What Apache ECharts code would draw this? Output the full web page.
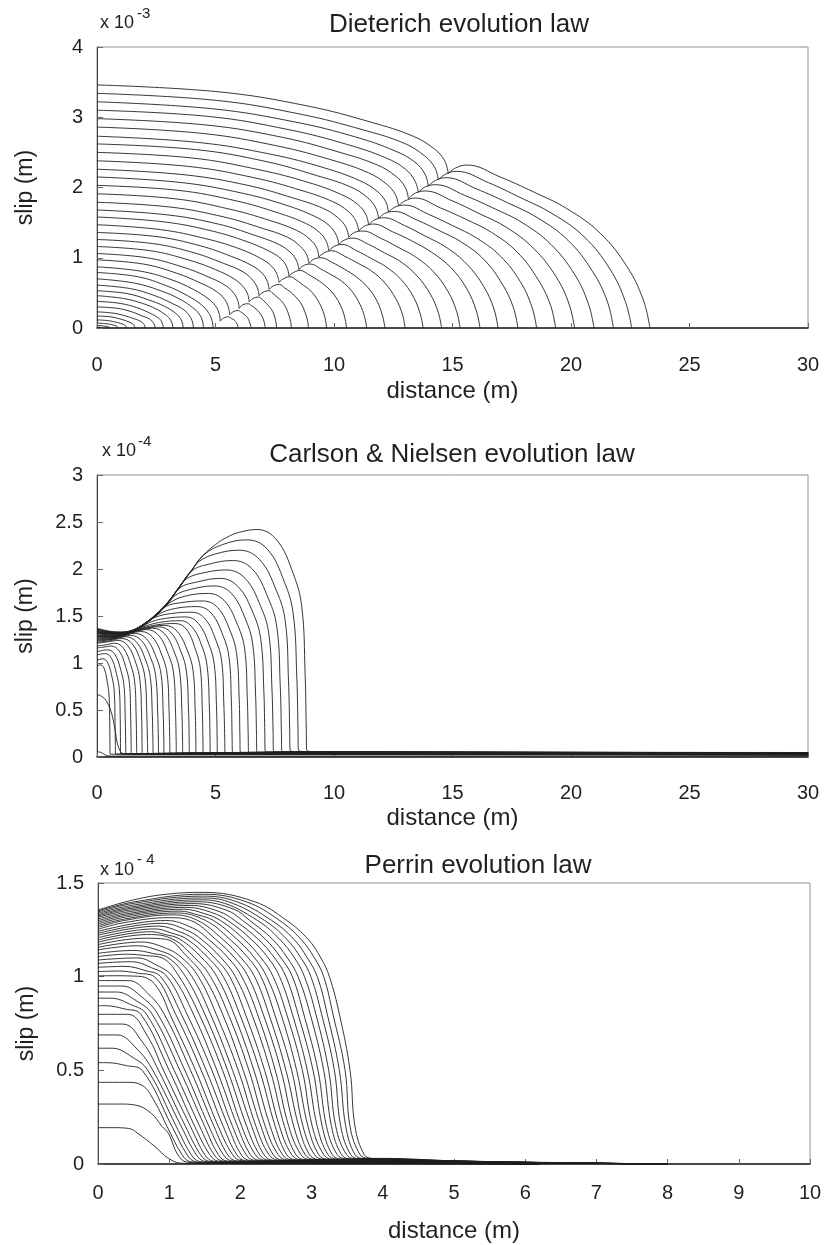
<!DOCTYPE html>
<html><head><meta charset="utf-8">
<script src="https://cdn.jsdelivr.net/npm/echarts@6/dist/echarts.min.js"></script>
<style>html,body{margin:0;padding:0;background:#fff}#c{width:829px;height:1245px}</style>
</head><body><div id="c"></div>
<script>
// ---------- tick values ----------
const dieterichXTicks = [0, 5, 10, 15, 20, 25, 30];
const dieterichYTicks = [0, 1, 2, 3, 4];
const carlsonXTicks = [0, 5, 10, 15, 20, 25, 30];
const carlsonYTicks = [0, 0.5, 1, 1.5, 2, 2.5, 3];
const perrinXTicks = [0, 1, 2, 3, 4, 5, 6, 7, 8, 9, 10];
const perrinYTicks = [0, 0.5, 1, 1.5];

// ---------- Dieterich: slip (x 1e-3 m) vs distance (m) ----------
const dieterichInner = [
 [[0,3.46],[5.19,3.36],[8.89,3.16],[11.56,2.93],[13.34,2.73],[14.23,2.55],[14.67,2.38],[14.82,2.20]],
 [[0,3.34],[5.04,3.24],[8.64,3.04],[11.23,2.82],[12.96,2.63],[13.82,2.45],[14.26,2.28],[14.40,2.11]],
 [[0,3.22],[4.89,3.12],[8.39,2.93],[10.90,2.72],[12.58,2.52],[13.42,2.36],[13.84,2.19],[13.98,2.02]],
 [[0,3.10],[4.75,3.01],[8.14,2.82],[10.58,2.61],[12.20,2.42],[13.02,2.26],[13.42,2.09],[13.56,1.93]],
 [[0,2.98],[4.60,2.89],[7.88,2.71],[10.25,2.50],[11.83,2.32],[12.61,2.16],[13.01,2.00],[13.14,1.84]],
 [[0,2.86],[4.45,2.77],[7.63,2.59],[9.92,2.39],[11.45,2.21],[12.21,2.05],[12.59,1.90],[12.72,1.74]],
 [[0,2.73],[4.31,2.64],[7.38,2.47],[9.59,2.28],[11.07,2.10],[11.81,1.95],[12.18,1.80],[12.30,1.65]],
 [[0,2.62],[4.16,2.54],[7.13,2.37],[9.27,2.17],[10.69,2.01],[11.40,1.86],[11.76,1.71],[11.88,1.56]],
 [[0,2.50],[4.01,2.42],[6.88,2.25],[8.94,2.07],[10.31,1.90],[11.00,1.76],[11.35,1.61],[11.46,1.47]],
 [[0,2.38],[3.86,2.30],[6.62,2.14],[8.61,1.96],[9.94,1.80],[10.60,1.66],[10.93,1.52],[11.04,1.38]],
 [[0,2.26],[3.72,2.18],[6.37,2.03],[8.28,1.85],[9.56,1.70],[10.20,1.56],[10.51,1.43],[10.62,1.29]],
 [[0,2.15],[3.57,2.07],[6.12,1.92],[7.96,1.75],[9.18,1.59],[9.79,1.46],[10.10,1.32],[10.20,1.19]],
 [[0,2.03],[3.42,1.96],[5.87,1.81],[7.63,1.64],[8.80,1.49],[9.39,1.36],[9.68,1.23],[9.78,1.10]],
 [[0,1.91],[3.28,1.84],[5.62,1.69],[7.30,1.53],[8.42,1.39],[8.99,1.26],[9.27,1.14],[9.36,1.01]],
 [[0,1.79],[3.13,1.72],[5.36,1.58],[6.97,1.42],[8.05,1.29],[8.58,1.16],[8.85,1.04],[8.94,0.92]],
 [[0,1.68],[2.98,1.61],[5.11,1.48],[6.65,1.32],[7.67,1.19],[8.18,1.07],[8.43,0.95],[8.52,0.83]],
 [[0,1.58],[2.84,1.51],[4.86,1.38],[6.32,1.23],[7.29,1.09],[7.78,0.98],[8.02,0.86],[8.10,0.74]],
 [[0,1.47],[2.69,1.40],[4.61,1.27],[5.99,1.13],[6.91,0.99],[7.37,0.88],[7.60,0.76],[7.68,0.65]],
 [[0,1.36],[2.54,1.30],[4.36,1.17],[5.66,1.02],[6.53,0.89],[6.97,0.78],[7.19,0.66],[7.26,0.55]],
 [[0,1.26],[2.39,1.20],[4.10,1.07],[5.34,0.92],[6.16,0.80],[6.57,0.68],[6.77,0.57],[6.84,0.46]],
 [[0,1.16],[2.25,1.10],[3.85,0.97],[5.01,0.83],[5.78,0.70],[6.16,0.59],[6.36,0.48],[6.42,0.37]],
 [[0,1.06],[2.10,1.00],[3.60,0.87],[4.68,0.73],[5.40,0.61],[5.76,0.50],[5.94,0.39],[6.00,0.28]],
 [[0,0.97],[1.96,0.91],[3.36,0.78],[4.37,0.64],[5.04,0.52],[5.38,0.41],[5.54,0.30],[5.60,0.19]],
 [[0,0.87],[1.82,0.81],[3.12,0.69],[4.06,0.55],[4.68,0.42],[4.99,0.32],[5.15,0.21],[5.20,0.10]]
];
const dieterichOuter = [
 [[14.82,2.20],[15.14,2.28],[15.62,2.32],[17.01,2.15],[18.40,1.94],[19.82,1.70],[21.23,1.35],[22.37,0.87],[23.05,0.40],[23.33,0]],
 [[14.40,2.11],[14.71,2.19],[15.18,2.23],[16.51,2.07],[17.84,1.86],[19.20,1.63],[20.55,1.30],[21.64,0.84],[22.29,0.38],[22.56,0]],
 [[13.98,2.02],[14.28,2.10],[14.74,2.14],[16.01,1.98],[17.28,1.79],[18.58,1.57],[19.87,1.25],[20.92,0.80],[21.54,0.37],[21.79,0]],
 [[13.56,1.93],[13.86,2.01],[14.30,2.04],[15.50,1.89],[16.70,1.71],[17.94,1.50],[19.15,1.19],[20.14,0.77],[20.73,0.35],[20.97,0]],
 [[13.14,1.84],[13.43,1.92],[13.86,1.95],[14.99,1.81],[16.12,1.63],[17.29,1.43],[18.43,1.13],[19.37,0.73],[19.92,0.34],[20.15,0]],
 [[12.72,1.74],[13.00,1.81],[13.42,1.85],[14.49,1.71],[15.55,1.55],[16.65,1.36],[17.73,1.08],[18.61,0.69],[19.14,0.32],[19.35,0]],
 [[12.30,1.65],[12.57,1.72],[12.98,1.75],[13.98,1.62],[14.99,1.46],[16.02,1.28],[17.03,1.02],[17.86,0.66],[18.35,0.30],[18.55,0]],
 [[11.88,1.56],[12.14,1.63],[12.54,1.66],[13.48,1.54],[14.42,1.39],[15.39,1.22],[16.34,0.97],[17.11,0.62],[17.57,0.29],[17.76,0]],
 [[11.46,1.47],[11.72,1.54],[12.10,1.57],[12.97,1.46],[13.84,1.31],[14.73,1.15],[15.60,0.91],[16.32,0.59],[16.75,0.27],[16.92,0]],
 [[11.04,1.38],[11.29,1.45],[11.66,1.48],[12.47,1.37],[13.28,1.24],[14.11,1.08],[14.93,0.86],[15.60,0.56],[16.00,0.25],[16.16,0]],
 [[10.62,1.29],[10.86,1.36],[11.22,1.38],[11.96,1.28],[12.70,1.15],[13.45,1.01],[14.20,0.80],[14.81,0.52],[15.17,0.24],[15.32,0]],
 [[10.20,1.19],[10.43,1.25],[10.78,1.28],[11.46,1.19],[12.13,1.07],[12.83,0.94],[13.51,0.74],[14.07,0.48],[14.40,0.22],[14.54,0]],
 [[9.78,1.10],[10.00,1.16],[10.34,1.19],[10.96,1.10],[11.57,0.99],[12.20,0.87],[12.83,0.69],[13.34,0.45],[13.64,0.20],[13.76,0]],
 [[9.36,1.01],[9.58,1.07],[9.90,1.10],[10.46,1.02],[11.02,0.92],[11.59,0.81],[12.15,0.64],[12.62,0.41],[12.89,0.19],[13.00,0]],
 [[8.94,0.92],[9.15,0.98],[9.46,1.00],[9.94,0.93],[10.43,0.84],[10.93,0.73],[11.42,0.58],[11.82,0.38],[12.05,0.17],[12.15,0]],
 [[8.52,0.83],[8.72,0.89],[9.02,0.91],[9.44,0.84],[9.87,0.76],[10.31,0.67],[10.74,0.53],[11.09,0.34],[11.29,0.16],[11.38,0]],
 [[8.10,0.74],[8.29,0.79],[8.58,0.82],[8.93,0.76],[9.28,0.69],[9.64,0.60],[9.99,0.48],[10.29,0.31],[10.46,0.14],[10.53,0]],
 [[7.68,0.65],[7.86,0.70],[8.14,0.73],[8.42,0.68],[8.70,0.61],[8.98,0.54],[9.27,0.42],[9.50,0.27],[9.63,0.13],[9.69,0]],
 [[7.26,0.55],[7.44,0.60],[7.70,0.62],[7.92,0.57],[8.14,0.52],[8.36,0.45],[8.59,0.36],[8.77,0.23],[8.88,0.11],[8.92,0]],
 [[6.84,0.46],[7.01,0.51],[7.26,0.53],[7.43,0.49],[7.60,0.44],[7.77,0.39],[7.94,0.31],[8.08,0.20],[8.17,0.09],[8.20,0]],
 [[6.42,0.37],[6.58,0.42],[6.82,0.44],[6.96,0.41],[7.09,0.37],[7.23,0.32],[7.37,0.26],[7.49,0.17],[7.55,0.08],[7.58,0]],
 [[6.00,0.28],[6.15,0.33],[6.38,0.345],[6.51,0.32],[6.64,0.29],[6.77,0.25],[6.90,0.20],[7.01,0.13],[7.07,0.06],[7.10,0]],
 [[5.60,0.19],[5.74,0.23],[5.96,0.25],[6.06,0.23],[6.15,0.21],[6.25,0.18],[6.35,0.15],[6.43,0.09],[6.48,0.04],[6.50,0]],
 [[5.20,0.10],[5.34,0.14],[5.54,0.16],[5.62,0.15],[5.69,0.13],[5.77,0.12],[5.85,0.09],[5.91,0.06],[5.94,0.03],[5.96,0]]
];
const dieterichEarly = [
 [[0,0.79],[1.72,0.73],[2.94,0.60],[3.82,0.46],[4.41,0.33],[4.70,0.22],[4.85,0.11],[4.90,0]],
 [[0,0.70],[1.57,0.64],[2.69,0.53],[3.50,0.41],[4.04,0.29],[4.31,0.20],[4.45,0.10],[4.49,0]],
 [[0,0.61],[1.42,0.56],[2.44,0.46],[3.17,0.35],[3.66,0.26],[3.91,0.17],[4.03,0.085],[4.07,0]],
 [[0,0.53],[1.27,0.49],[2.18,0.40],[2.84,0.31],[3.28,0.22],[3.49,0.15],[3.60,0.074],[3.64,0]],
 [[0,0.46],[1.12,0.42],[1.92,0.35],[2.50,0.27],[2.88,0.19],[3.07,0.13],[3.17,0.064],[3.20,0]],
 [[0,0.38],[0.98,0.35],[1.68,0.29],[2.18,0.22],[2.52,0.16],[2.69,0.11],[2.77,0.053],[2.80,0]],
 [[0,0.30],[0.86,0.28],[1.47,0.23],[1.91,0.17],[2.21,0.13],[2.35,0.084],[2.43,0.042],[2.45,0]],
 [[0,0.23],[0.71,0.21],[1.22,0.17],[1.58,0.13],[1.83,0.097],[1.95,0.064],[2.01,0.032],[2.03,0]],
 [[0,0.17],[0.56,0.16],[0.96,0.13],[1.25,0.099],[1.44,0.071],[1.54,0.048],[1.58,0.024],[1.60,0]],
 [[0,0.115],[0.44,0.106],[0.75,0.087],[0.98,0.067],[1.13,0.048],[1.20,0.032],[1.24,0.016],[1.25,0]],
 [[0,0.07],[0.32,0.064],[0.54,0.053],[0.70,0.041],[0.81,0.029],[0.86,0.02],[0.89,0.01],[0.90,0]],
 [[0,0.035],[0.19,0.032],[0.33,0.027],[0.43,0.02],[0.50,0.015],[0.53,0.01],[0.545,0.005],[0.55,0]],
 [[0,0.012],[0.07,0.011],[0.12,0.009],[0.16,0.007],[0.18,0.005],[0.19,0.003],[0.20,0]]
];

// ---------- Carlson & Nielsen: slip (x 1e-4 m) ----------
const carlsonCurves = [
 [[0,0.055],[0.15,0.05],[0.3,0.03],[0.45,0.012],[0.8,0.01],[30,0.01]],
 [[0,0.665],[0.2,0.645],[0.41,0.59],[0.62,0.46],[0.76,0.29],[0.9,0.11],[1.11,0.035],[1.5,0.03],[30,0.02]],
 [[0,0.97],[0.15,0.98],[0.31,0.936],[0.44,0.79],[0.51,0.647],[0.537,0.363],[0.546,0.127],[0.55,0.03],[0.9,0.03],[30,0.022]],
 [[0,1.03],[0.25,1.045],[0.46,0.998],[0.64,0.842],[0.73,0.69],[0.76,0.387],[0.775,0.136],[0.78,0.031],[1.1,0.032],[30,0.023]],
 [[0,1.085],[0.35,1.10],[0.61,1.05],[0.82,0.887],[0.94,0.726],[0.98,0.407],[0.99,0.143],[1.0,0.033],[1.35,0.033],[30,0.024]],
 [[0,1.12],[0.45,1.14],[0.76,1.089],[1.01,0.919],[1.14,0.752],[1.19,0.422],[1.21,0.148],[1.22,0.034],[1.55,0.034],[30,0.025]],
 [[0,1.16],[0.3,1.17],[0.6,1.18],[0.94,1.127],[1.22,0.951],[1.37,0.779],[1.42,0.437],[1.44,0.153],[1.45,0.035],[1.8,0.035],[30,0.026]],
 [[0,1.18],[0.4,1.195],[0.75,1.21],[1.12,1.156],[1.43,0.975],[1.59,0.799],[1.65,0.448],[1.67,0.157],[1.68,0.036],[2.0,0.036],[30,0.027]],
 [[0,1.21],[0.45,1.225],[0.9,1.24],[1.3,1.184],[1.64,0.999],[1.81,0.818],[1.88,0.459],[1.90,0.161],[1.91,0.037],[2.25,0.037],[30,0.028]],
 [[0,1.22],[0.5,1.235],[1.05,1.26],[1.49,1.203],[1.85,1.016],[2.03,0.832],[2.10,0.466],[2.13,0.164],[2.14,0.038],[2.5,0.038],[30,0.028]],
 [[0,1.23],[0.6,1.25],[1.2,1.28],[1.67,1.222],[2.05,1.032],[2.25,0.845],[2.33,0.474],[2.36,0.166],[2.37,0.038],[2.7,0.039],[30,0.029]],
 [[0,1.24],[0.5,1.25],[1,1.272],[1.4,1.295],[1.88,1.237],[2.28,1.044],[2.48,0.855],[2.56,0.479],[2.59,0.168],[2.6,0.039],[2.95,0.039],[30,0.029]],
 [[0,1.25],[0.5,1.256],[1,1.28],[1.6,1.315],[2.09,1.256],[2.50,1.06],[2.71,0.868],[2.79,0.487],[2.82,0.171],[2.83,0.039],[3.2,0.04],[30,0.03]],
 [[0,1.26],[0.5,1.263],[1,1.285],[1.85,1.335],[2.34,1.275],[2.75,1.076],[2.96,0.881],[3.04,0.494],[3.07,0.174],[3.08,0.04],[3.45,0.041],[30,0.031]],
 [[0,1.27],[0.5,1.27],[1,1.29],[1.5,1.325],[2.1,1.355],[2.6,1.294],[3.01,1.092],[3.23,0.894],[3.31,0.501],[3.34,0.176],[3.35,0.041],[3.7,0.042],[30,0.032]],
 [[0,1.28],[0.5,1.277],[1,1.294],[1.5,1.33],[2.35,1.37],[2.86,1.308],[3.28,1.104],[3.49,0.904],[3.58,0.507],[3.61,0.178],[3.62,0.041],[4.0,0.043],[30,0.033]],
 [[0,1.285],[0.5,1.28],[1,1.296],[1.5,1.332],[2.0,1.365],[2.6,1.385],[3.12,1.323],[3.55,1.116],[3.77,0.914],[3.86,0.512],[3.89,0.18],[3.90,0.042],[4.25,0.043],[30,0.033]],
 [[0,1.29],[0.5,1.284],[1,1.298],[1.5,1.334],[2.0,1.37],[2.85,1.40],[3.38,1.337],[3.82,1.128],[4.05,0.924],[4.14,0.518],[4.17,0.182],[4.18,0.042],[4.55,0.044],[30,0.034]],
 [[0,1.29],[0.5,1.284],[1,1.298],[1.5,1.334],[1.9,1.37],[2.5,1.405],[3.3,1.42],[3.77,1.36],[4.16,1.14],[4.36,0.94],[4.44,0.53],[4.47,0.18],[4.48,0.045],[4.85,0.044],[30,0.034]],
 [[0,1.30],[0.5,1.291],[1,1.302],[1.5,1.336],[1.9,1.38],[2.6,1.43],[3.52,1.45],[4.02,1.38],[4.44,1.17],[4.65,0.96],[4.74,0.54],[4.77,0.19],[4.78,0.045],[5.15,0.045],[30,0.035]],
 [[0,1.31],[0.5,1.298],[1,1.306],[1.5,1.338],[2,1.40],[2.3,1.44],[2.9,1.475],[3.75,1.49],[4.28,1.42],[4.72,1.20],[4.95,0.98],[5.04,0.55],[5.07,0.19],[5.08,0.045],[5.45,0.046],[30,0.036]],
 [[0,1.32],[0.5,1.305],[1,1.31],[1.5,1.34],[2,1.405],[2.4,1.48],[3.1,1.525],[4.0,1.54],[4.56,1.47],[5.02,1.24],[5.26,1.02],[5.35,0.57],[5.39,0.20],[5.40,0.05],[5.8,0.047],[30,0.037]],
 [[0,1.32],[0.5,1.305],[1,1.31],[1.5,1.34],[2,1.41],[2.6,1.52],[3.3,1.58],[4.22,1.60],[4.82,1.53],[5.32,1.29],[5.57,1.06],[5.67,0.59],[5.70,0.21],[5.72,0.05],[6.1,0.048],[30,0.038]],
 [[0,1.33],[0.5,1.312],[1,1.314],[1.5,1.342],[2,1.412],[2.5,1.505],[2.9,1.60],[3.5,1.64],[4.45,1.66],[5.09,1.59],[5.62,1.34],[5.89,1.10],[6.0,0.61],[6.03,0.22],[6.05,0.05],[6.45,0.05],[30,0.04]],
 [[0,1.33],[0.5,1.312],[1,1.314],[1.5,1.342],[2,1.413],[2.5,1.508],[3,1.63],[3.7,1.71],[4.7,1.74],[5.38,1.66],[5.94,1.40],[6.23,1.15],[6.34,0.64],[6.38,0.23],[6.40,0.05],[6.8,0.051],[30,0.041]],
 [[0,1.34],[0.5,1.319],[1,1.318],[1.5,1.344],[2,1.414],[2.5,1.51],[3,1.635],[3.3,1.72],[3.9,1.78],[4.95,1.82],[5.67,1.74],[6.26,1.47],[6.57,1.20],[6.69,0.67],[6.73,0.24],[6.75,0.05],[7.15,0.052],[30,0.042]],
 [[0,1.34],[0.5,1.319],[1,1.318],[1.5,1.344],[2,1.415],[2.5,1.512],[3,1.64],[3.5,1.80],[4.2,1.86],[5.2,1.90],[5.96,1.81],[6.59,1.53],[6.91,1.25],[7.04,0.70],[7.08,0.25],[7.10,0.06],[7.5,0.053],[30,0.043]],
 [[0,1.35],[0.5,1.326],[1,1.322],[1.5,1.346],[2,1.416],[2.5,1.514],[3,1.643],[3.5,1.81],[3.8,1.9],[4.5,1.96],[5.45,1.99],[6.25,1.90],[6.91,1.60],[7.25,1.31],[7.38,0.74],[7.43,0.26],[7.45,0.06],[7.85,0.054],[30,0.044]],
 [[0,1.35],[0.5,1.326],[1,1.322],[1.5,1.346],[2,1.417],[2.5,1.516],[3,1.646],[3.5,1.815],[4,1.98],[4.7,2.05],[5.72,2.09],[6.55,2.0],[7.24,1.68],[7.59,1.38],[7.73,0.77],[7.78,0.27],[7.80,0.06],[8.2,0.056],[30,0.045]],
 [[0,1.36],[0.5,1.333],[1,1.326],[1.5,1.348],[2,1.418],[2.5,1.518],[3,1.648],[3.5,1.818],[4,1.985],[4.3,2.08],[5.0,2.16],[6.0,2.20],[6.86,2.10],[7.57,1.77],[7.94,1.45],[8.08,0.81],[8.13,0.29],[8.15,0.07],[8.55,0.057],[30,0.046]],
 [[0,1.36],[0.5,1.333],[1,1.326],[1.5,1.348],[2,1.419],[2.5,1.52],[3,1.65],[3.5,1.82],[4,1.99],[4.5,2.15],[5.3,2.26],[6.32,2.31],[7.19,2.21],[7.91,1.86],[8.28,1.52],[8.43,0.85],[8.48,0.30],[8.50,0.07],[8.9,0.058],[30,0.047]],
 [[0,1.37],[0.5,1.34],[1,1.33],[1.5,1.35],[2,1.42],[2.5,1.52],[3,1.65],[3.5,1.82],[4,1.99],[4.5,2.15],[5,2.26],[5.5,2.34],[6,2.39],[6.75,2.42],[7.58,2.31],[8.28,1.95],[8.64,1.6],[8.78,0.89],[8.83,0.3],[8.85,0.07],[9.5,0.055],[30,0.048]]
];

// ---------- Perrin: slip (x 1e-4 m) ----------
const perrinCurves = [
 [[0,.194],[.2,.194],[.43,.19],[.56,.163],[.8,.093],[.99,.03],[1.18,.004],[1.5,.003],[5,.0004],[6.2,0]],
 [[0,.32],[.3,.32],[.52,.315],[.75,.27],[.90,.2],[.99,.163],[1.12,.05],[1.25,.01],[1.55,.005],[5,.001],[6.2,0]],
 [[0,.436],[.4,.436],[.62,.42],[.8,.33],[.97,.2],[1.18,.05],[1.3,.012],[1.6,.005],[5,.001],[6.2,0]],
 [[0,.541],[.12,.541],[.40,.525],[.62,.5],[1.04,.2],[1.25,.05],[1.37,.012],[1.6,.006],[5,.002],[6.2,0]],
 [[0,.618],[.2,.618],[.48,.571],[.70,.5],[1.10,.2],[1.31,.05],[1.43,.013],[1.7,.007],[5,.002],[6.2,0]],
 [[0,.689],[.27,.689],[.55,.613],[.77,.5],[1.17,.2],[1.38,.05],[1.5,.014],[1.8,.008],[5,.002],[6.2,0]],
 [[0,.747],[.35,.747],[.63,.648],[.85,.5],[1.23,.2],[1.44,.05],[1.56,.014],[1.85,.008],[5,.003],[6.2,0]],
 [[0,.799],[.42,.799],[.70,.679],[.92,.5],[1.30,.2],[1.50,.05],[1.62,.015],[1.9,.009],[5,.003],[6.2,0]],
 [[0,.845],[.10,.845],[.38,.827],[.60,.8],[1.00,.5],[1.36,.2],[1.57,.05],[1.69,.015],[2.0,.009],[5,.004],[6.2,0]],
 [[0,.885],[.18,.885],[.46,.851],[.68,.8],[1.07,.5],[1.43,.2],[1.63,.05],[1.75,.016],[2.05,.01],[5,.004],[6.2,0]],
 [[0,.918],[.26,.918],[.54,.871],[.76,.8],[1.15,.5],[1.50,.2],[1.69,.05],[1.81,.016],[2.1,.011],[5,.004],[6.2,0]],
 [[0,.95],[.34,.95],[.62,.89],[.84,.8],[1.22,.5],[1.56,.2],[1.76,.05],[1.88,.017],[2.2,.011],[5,.005],[6.2,0]],
 [[0,.979],[.43,.979],[.71,.907],[.93,.8],[1.30,.5],[1.63,.2],[1.82,.05],[1.94,.017],[2.25,.012],[5,.005],[6.2,0]],
 [[0,1.004],[.2,1.005],[.50,1.003],[.70,.99],[.87,.92],[1.01,.8],[1.37,.5],[1.69,.2],[1.89,.05],[2.01,.018],[2.3,.012],[5,.006],[6.2,0]],
 [[0,1.027],[.29,1.03],[.57,1.018],[.79,1.0],[1.09,.8],[1.45,.5],[1.76,.2],[1.95,.05],[2.07,.018],[2.35,.013],[5,.006],[6.2,0]],
 [[0,1.05],[.38,1.055],[.66,1.033],[.88,1.0],[1.17,.8],[1.52,.5],[1.83,.2],[2.01,.05],[2.13,.019],[2.4,.014],[5,.006],[6.2,0]],
 [[0,1.071],[.47,1.08],[.75,1.048],[.97,1.0],[1.25,.8],[1.60,.5],[1.89,.2],[2.08,.05],[2.2,.019],[2.5,.014],[5,.007],[6.2,0]],
 [[0,1.089],[.55,1.10],[.83,1.06],[1.05,1.0],[1.34,.8],[1.67,.5],[1.96,.2],[2.14,.05],[2.26,.02],[2.55,.015],[5,.007],[6.2,0]],
 [[0,1.107],[.4,1.12],[.68,1.112],[.90,1.1],[1.14,1.0],[1.42,.8],[1.75,.5],[2.02,.2],[2.21,.05],[2.33,.02],[2.6,.015],[5,.008],[6.2,0]],
 [[0,1.125],[.5,1.14],[.77,1.124],[.99,1.1],[1.23,1.0],[1.50,.8],[1.82,.5],[2.09,.2],[2.27,.05],[2.4,.02],[2.7,.016],[5,.008],[6.2,0]],
 [[0,1.143],[.55,1.165],[.86,1.139],[1.08,1.1],[1.32,1.0],[1.58,.8],[1.89,.5],[2.16,.2],[2.33,.05],[2.46,.02],[2.75,.017],[5,.008],[6.2,0]],
 [[0,1.157],[.6,1.185],[.96,1.151],[1.18,1.1],[1.41,1.0],[1.66,.8],[1.97,.5],[2.22,.2],[2.40,.05],[2.53,.021],[2.8,.017],[5,.009],[6.2,0]],
 [[0,1.171],[.65,1.205],[.95,1.2],[1.27,1.1],[1.49,1.0],[1.75,.8],[2.04,.5],[2.29,.2],[2.46,.05],[2.59,.021],[2.9,.018],[5,.009],[6.2,0]],
 [[0,1.184],[.7,1.225],[1.05,1.2],[1.36,1.1],[1.58,1.0],[1.83,.8],[2.12,.5],[2.35,.2],[2.53,.05],[2.66,.021],[2.95,.018],[5,.01],[6.2,0]],
 [[0,1.196],[.75,1.24],[.93,1.226],[1.15,1.2],[1.46,1.1],[1.67,1.0],[1.91,.8],[2.19,.5],[2.42,.2],[2.59,.05],[2.72,.022],[3.0,.019],[5,.01],[6.2,.005],[8,0]],
 [[0,1.208],[.8,1.255],[1.03,1.233],[1.25,1.2],[1.55,1.1],[1.76,1.0],[1.99,.8],[2.27,.5],[2.49,.2],[2.65,.05],[2.78,.022],[3.05,.02],[5,.01],[6.2,.005],[8,0]],
 [[0,1.221],[.85,1.27],[1.13,1.242],[1.35,1.2],[1.64,1.1],[1.85,1.0],[2.07,.8],[2.34,.5],[2.55,.2],[2.72,.05],[2.85,.022],[3.1,.02],[5,.011],[6.2,.005],[8,0]],
 [[0,1.231],[.9,1.285],[1.23,1.251],[1.45,1.2],[1.73,1.1],[1.93,1.0],[2.16,.8],[2.42,.5],[2.62,.2],[2.78,.05],[2.91,.023],[3.2,.021],[5,.011],[6.2,.006],[8,0]],
 [[0,1.242],[.95,1.30],[1.33,1.26],[1.55,1.2],[1.83,1.1],[2.02,1.0],[2.24,.8],[2.49,.5],[2.68,.2],[2.85,.05],[2.98,.023],[3.25,.021],[5,.012],[6.2,.006],[8,0]],
 [[0,1.253],[.35,1.287],[1.0,1.315],[1.30,1.3],[1.65,1.2],[1.92,1.1],[2.11,1.0],[2.32,.8],[2.57,.5],[2.75,.2],[2.91,.05],[3.04,.024],[3.3,.022],[5,.012],[6.2,.006],[8,0]],
 [[0,1.263],[.37,1.30],[1.05,1.33],[1.40,1.3],[1.75,1.2],[2.01,1.1],[2.20,1.0],[2.40,.8],[2.64,.5],[2.82,.2],[2.97,.05],[3.1,.024],[3.35,.022],[5,.012],[6.2,.006],[8,0]],
 [[0,1.272],[.39,1.309],[1.1,1.34],[1.51,1.3],[1.85,1.2],[2.11,1.1],[2.29,1.0],[2.48,.8],[2.72,.5],[2.88,.2],[3.04,.05],[3.17,.025],[3.4,.023],[5,.013],[6.2,.006],[8,0]],
 [[0,1.281],[.40,1.319],[1.15,1.35],[1.40,1.33],[1.62,1.3],[1.95,1.2],[2.20,1.1],[2.37,1.0],[2.57,.8],[2.79,.5],[2.95,.2],[3.10,.05],[3.23,.025],[3.45,.023],[5,.013],[6.2,.007],[8,0]],
 [[0,1.29],[.42,1.329],[1.2,1.36],[1.50,1.336],[1.72,1.3],[2.05,1.2],[2.29,1.1],[2.46,1.0],[2.65,.8],[2.87,.5],[3.01,.2],[3.17,.05],[3.3,.025],[3.5,.024],[5,.014],[6.2,.007],[8,0]],
 [[0,1.299],[.44,1.338],[1.25,1.37],[1.60,1.342],[1.82,1.3],[2.15,1.2],[2.39,1.1],[2.55,1.0],[2.73,.8],[2.94,.5],[3.08,.2],[3.23,.05],[3.36,.026],[3.55,.024],[5,.014],[6.2,.007],[8,0]],
 [[0,1.308],[.46,1.348],[1.3,1.38],[1.70,1.348],[1.92,1.3],[2.25,1.2],[2.48,1.1],[2.64,1.0],[2.81,.8],[3.02,.5],[3.15,.2],[3.29,.05],[3.42,.026],[3.6,.025],[5,.014],[6.2,.007],[8,0]],
 [[0,1.317],[.47,1.357],[1.35,1.39],[1.81,1.354],[2.03,1.3],[2.35,1.2],[2.57,1.1],[2.73,1.0],[2.89,.8],[3.09,.5],[3.21,.2],[3.36,.05],[3.49,.027],[3.65,.025],[5,.015],[6.2,.007],[8,0]],
 [[0,1.324],[.49,1.366],[1.4,1.40],[1.91,1.36],[2.13,1.3],[2.45,1.2],[2.66,1.1],[2.81,1.0],[2.98,.8],[3.17,.5],[3.28,.2],[3.42,.05],[3.55,.027],[3.7,.026],[5,.015],[6.2,.008],[8,0]],
 [[0,1.331],[.5,1.374],[1.43,1.41],[1.70,1.4],[2.24,1.3],[2.55,1.2],[2.76,1.1],[2.90,1.0],[3.06,.8],[3.24,.5],[3.34,.2],[3.49,.05],[3.62,.028],[3.75,.027],[5,.016],[6.2,.008],[8,0]],
 [[0,1.338],[.51,1.383],[1.45,1.42],[1.83,1.4],[2.34,1.3],[2.65,1.2],[2.85,1.1],[2.99,1.0],[3.14,.8],[3.32,.5],[3.41,.2],[3.55,.05],[3.68,.028],[3.8,.028],[5,.016],[6.2,.008],[8,0]],
 [[0,1.345],[.51,1.392],[1.47,1.43],[1.95,1.4],[2.44,1.3],[2.75,1.2],[2.94,1.1],[3.08,1.0],[3.22,.8],[3.39,.5],[3.48,.2],[3.61,.05],[3.74,.029],[3.85,.029],[5,.016],[6.2,.008],[8,0]],
 [[0,1.351],[.52,1.40],[1.48,1.44],[2.08,1.4],[2.55,1.3],[2.85,1.2],[3.04,1.1],[3.17,1.0],[3.30,.8],[3.47,.5],[3.54,.2],[3.68,.05],[3.8,.03],[3.9,.029],[5,.017],[6.2,.008],[8,0]],
 [[0,1.356],[.5,1.41],[.96,1.44],[1.48,1.45],[2.20,1.4],[2.65,1.3],[2.95,1.2],[3.13,1.1],[3.25,1.0],[3.39,.8],[3.54,.5],[3.61,.2],[3.74,.05],[3.86,.03],[4.0,.03],[5,.017],[6.2,.009],[8,0]]
];

// ---------- text ----------
const panelTitles = ['Dieterich evolution law', 'Carlson & Nielsen evolution law', 'Perrin evolution law'];
const exponents = ['-3', '-4', '- 4'];
const xName = 'distance (m)';
const yName = 'slip (m)';

// ---------- build ----------
const FONT = "'Liberation Sans', Arial, Helvetica, sans-serif";
const INK = '#231f20';
const chart = echarts.init(document.getElementById('c'));

const gridBoxes = [
  {left: 97, top: 47, width: 711, height: 281},
  {left: 97, top: 475, width: 711, height: 282},
  {left: 98, top: 883, width: 712, height: 281}
];
const xTicks = [dieterichXTicks, carlsonXTicks, perrinXTicks];
const yTicks = [dieterichYTicks, carlsonYTicks, perrinYTicks];
const xLabelMargin = [27, 26, 19];
const xNameGap = [51, 49, 55];

const grid = gridBoxes.map(g => Object.assign({show: true, borderColor: '#8f8f8f', borderWidth: 1, containLabel: false}, g));
const xAxis = xTicks.map((t, i) => ({
  gridIndex: i, type: 'value', min: t[0], max: t[t.length - 1], interval: t[1] - t[0],
  name: xName, nameLocation: 'middle', nameGap: xNameGap[i],
  nameTextStyle: {fontSize: 24, color: INK, fontFamily: FONT},
  axisLine: {show: true, onZero: false, lineStyle: {color: INK, width: 1.6}},
  axisTick: {show: true, inside: true, length: 5, lineStyle: {color: '#666', width: 1}},
  axisLabel: {margin: xLabelMargin[i], fontSize: 20, color: INK, fontFamily: FONT},
  splitLine: {show: false}
}));
const yAxis = yTicks.map((t, i) => ({
  gridIndex: i, type: 'value', min: t[0], max: t[t.length - 1], interval: t[1] - t[0],
  name: yName, nameLocation: 'middle', nameGap: 60, nameRotate: 90,
  nameTextStyle: {fontSize: 23, color: INK, fontFamily: FONT},
  axisLine: {show: true, onZero: false, lineStyle: {color: '#444', width: 1}},
  axisTick: {show: true, inside: true, length: 6, lineStyle: {color: '#666', width: 1}},
  axisLabel: {margin: 14, fontSize: 20, color: INK, fontFamily: FONT},
  splitLine: {show: false}
}));

function line(data, idx) {
  return {type: 'line', xAxisIndex: idx, yAxisIndex: idx, data: data, showSymbol: false, symbol: 'none',
    smooth: 0.4, silent: true, animation: false, clip: true,
    lineStyle: {color: INK, width: 0.9}};
}
const series = [];
dieterichInner.forEach(c => series.push(line(c, 0)));
dieterichOuter.forEach(c => series.push(line(c, 0)));
dieterichEarly.forEach(c => series.push(line(c, 0)));
carlsonCurves.forEach(c => series.push(line(c, 1)));
perrinCurves.forEach(c => series.push(line(c, 2)));

const titlePos = [[459, 25], [452, 455], [478, 866]];
const expPos = [[100, 23, 137, 14], [102, 451, 138, 442], [100, 870, 137, 860]];
const graphic = [];
panelTitles.forEach((t, i) => {
  graphic.push({type: 'text', x: titlePos[i][0], y: titlePos[i][1], silent: true,
    style: {text: t, fill: INK, font: '26px ' + FONT, textAlign: 'center', align: 'center', textVerticalAlign: 'middle', verticalAlign: 'middle'}});
  graphic.push({type: 'text', x: expPos[i][0], y: expPos[i][1], silent: true,
    style: {text: 'x 10', fill: INK, font: '18px ' + FONT, textAlign: 'left', align: 'left', textVerticalAlign: 'middle', verticalAlign: 'middle'}});
  graphic.push({type: 'text', x: expPos[i][2], y: expPos[i][3], silent: true,
    style: {text: exponents[i], fill: INK, font: '15px ' + FONT, textAlign: 'left', align: 'left', textVerticalAlign: 'middle', verticalAlign: 'middle'}});
});

chart.setOption({animation: false, backgroundColor: '#fff', grid, xAxis, yAxis, series, graphic});
</script></body></html>
